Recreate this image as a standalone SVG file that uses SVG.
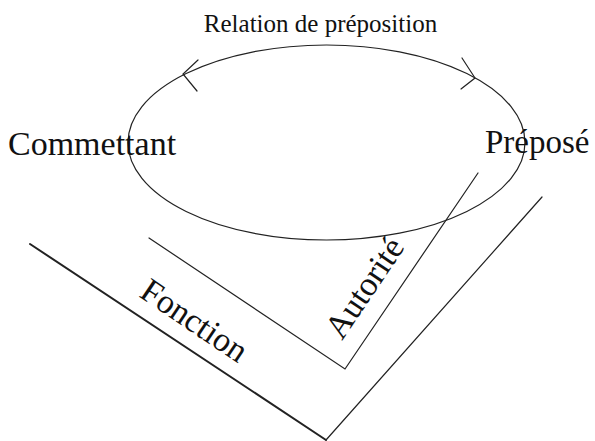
<svg xmlns="http://www.w3.org/2000/svg" width="595" height="441" viewBox="0 0 595 441">
<style>
.t{font-family:"Liberation Serif","Times New Roman",serif;fill:#111}
.l{fill:none;stroke:#222;stroke-width:1.2;stroke-linecap:round}
.th{stroke-width:2}
</style>
<rect width="595" height="441" fill="#fff"/>
<g id="relation">
<ellipse class="l" cx="326.5" cy="142.5" rx="198.5" ry="97.5"/>
<text class="t" x="320.5" y="32" font-size="25" text-anchor="middle">Relation de préposition</text>
</g>
<g id="connectors">
<polyline class="l" points="198,60 183,74 197,91"/>
<polyline class="l" points="462,58 475,78 461,89"/>
<line class="l th" x1="30" y1="244" x2="326" y2="440"/>
<line class="l" x1="326" y1="440" x2="542" y2="197" stroke-width="1.4"/>
<polyline class="l" points="149,238 345,369 478,173"/>
</g>
<g id="commettant"><text class="t" x="8" y="155" font-size="34">Commettant</text></g>
<g id="prepose"><text class="t" x="485" y="153" font-size="33">Préposé</text></g>
<g id="fonction"><text class="t" font-size="34" transform="translate(138,296) rotate(34)">Fonction</text></g>
<g id="autorite"><text class="t" font-size="34" transform="translate(342,341) rotate(-56)">Autorité</text></g>
</svg>
